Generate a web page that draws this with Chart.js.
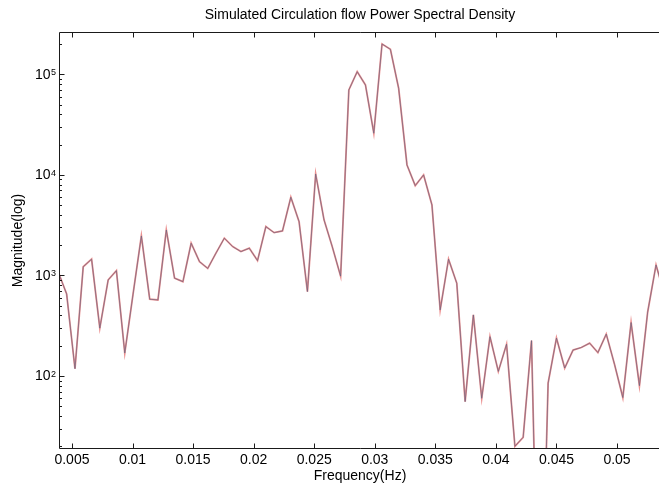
<!DOCTYPE html>
<html>
<head>
<meta charset="utf-8">
<title>Simulated Circulation flow Power Spectral Density</title>
<script src="https://cdn.jsdelivr.net/npm/chart.js@4.4.1/dist/chart.umd.min.js"></script>
<style>
  html, body { margin: 0; padding: 0; background: #fff; overflow: hidden; }
  canvas { display: block; }
</style>
</head>
<body>
<canvas id="psdChart" width="662" height="485"></canvas>
<script>
// frequency bins (Hz) of the spectrum
const frequency = [
    0.00393, 0.00456, 0.00525, 0.00593, 0.00662, 0.00730, 0.00799, 0.00867, 0.00936, 0.01004,
    0.01073, 0.01142, 0.01210, 0.01279, 0.01347, 0.01416, 0.01484, 0.01553, 0.01621, 0.01690,
    0.01758, 0.01827, 0.01895, 0.01964, 0.02032, 0.02101, 0.02169, 0.02238, 0.02307, 0.02375,
    0.02444, 0.02512, 0.02581, 0.02649, 0.02718, 0.02786, 0.02855, 0.02923, 0.02992, 0.03060,
    0.03129, 0.03197, 0.03266, 0.03334, 0.03403, 0.03472, 0.03540, 0.03609, 0.03677, 0.03746,
    0.03814, 0.03883, 0.03951, 0.04020, 0.04088, 0.04157, 0.04225, 0.04294, 0.04362, 0.04431,
    0.04500, 0.04568, 0.04637, 0.04705, 0.04774, 0.04842, 0.04911, 0.04979, 0.05048, 0.05116,
    0.05185, 0.05253, 0.05322, 0.05390
];

// PSD magnitude at each bin
const magnitude = [
    1030, 655, 118, 1220, 1450, 299, 902, 1116, 169, 646,
    2470, 580, 570, 2830, 938, 867, 2090, 1370, 1174, 1675,
    2345, 1932, 1725, 1864, 1403, 3054, 2661, 2767, 5984, 3427,
    690, 10200, 3566, 1932, 982, 69800, 106000, 78300, 25900, 200000,
    177000, 72600, 12530, 7810, 9980, 5020, 454, 1449, 836, 55.6,
    405, 60, 246, 111, 207, 20, 24.6, 225, 0.06, 85,
    238, 120, 181, 192, 212, 171, 261, 131, 61, 340,
    80, 433, 1271, 655
];

const decadeTicks = [100, 1000, 10000, 100000];
const freqRange = [0.00393, 0.05363];
const magRange = [18.8, 263000];

const FONT = 'Liberation Sans, Arial, Helvetica, sans-serif';

const points = frequency.map((f, i) => ({ x: f, y: magnitude[i] }));

// box, inward ticks and 10^n labels drawn on top of the trace
const axesFrame = {
    id: 'axesFrame',
    afterDatasetsDraw(chart) {
        const ctx = chart.ctx;
        const area = chart.chartArea;
        const xs = chart.scales.x;
        const ys = chart.scales.y;
        const L = Math.round(area.left) + 0.5;
        const T = Math.round(area.top) + 0.5;
        const B = Math.round(area.bottom) - 0.5;
        const R = area.right;

        ctx.save();
        ctx.strokeStyle = '#1a1a1a';
        ctx.lineWidth = 1;
        ctx.beginPath();
        ctx.moveTo(R, T); ctx.lineTo(L, T); ctx.lineTo(L, B); ctx.lineTo(R, B);

        xs.ticks.forEach(t => {
            const px = Math.round(xs.getPixelForValue(t.value)) + 0.5;
            ctx.moveTo(px, B); ctx.lineTo(px, B - 5);
            ctx.moveTo(px, T); ctx.lineTo(px, T + 5);
        });

        for (let e = 1; e <= 5; e++) {
            for (let j = 1; j <= 9; j++) {
                const v = j * Math.pow(10, e);
                if (v < magRange[0] || v > magRange[1]) continue;
                const py = Math.round(ys.getPixelForValue(v)) + 0.5;
                ctx.moveTo(L, py); ctx.lineTo(L + (j === 1 ? 5 : 2.5), py);
            }
        }
        ctx.stroke();

        ctx.fillStyle = '#000';
        decadeTicks.forEach(v => {
            const py = ys.getPixelForValue(v);
            const exp = String(Math.round(Math.log10(v)));
            ctx.font = '14px ' + FONT;
            ctx.textAlign = 'right';
            ctx.textBaseline = 'middle';
            ctx.fillText('10', L - 9, py + 0.5);
            ctx.font = '9px ' + FONT;
            ctx.textAlign = 'left';
            ctx.textBaseline = 'alphabetic';
            ctx.fillText(exp, L - 8.5, py + 1);
        });
        ctx.restore();
    }
};

new Chart(document.getElementById('psdChart'), {
    type: 'line',
    data: {
        datasets: [{
            label: 'PSD',
            data: points,
            order: 0,
            borderColor: 'rgba(95, 95, 125, 0.65)',
            borderWidth: 1,
            pointRadius: 0,
            tension: 0,
            fill: false
        }, {
            label: 'PSD (red trace)',
            data: points,
            order: 1,
            borderColor: 'rgba(232, 125, 125, 0.85)',
            borderWidth: 1.8,
            pointRadius: 0,
            tension: 0,
            fill: false
        }]
    },
    options: {
        responsive: false,
        animation: false,
        events: [],
        layout: { padding: { top: 0, left: 0, right: 1, bottom: 0 } },
        scales: {
            x: {
                type: 'linear',
                min: freqRange[0],
                max: freqRange[1],
                grid: { display: false, drawTicks: false },
                border: { display: false },
                ticks: {
                    stepSize: 0.005,
                    includeBounds: false,
                    autoSkip: false,
                    maxRotation: 0,
                    padding: 2.6,
                    color: '#000',
                    font: { family: FONT, size: 14 },
                    callback: v => String(+v.toFixed(3))
                },
                title: {
                    display: true,
                    text: 'Frequency(Hz)',
                    color: '#000',
                    font: { family: FONT, size: 14 },
                    padding: { top: 0, bottom: 0.6 }
                },
                afterFit: s => { s.height = 36; }
            },
            y: {
                type: 'logarithmic',
                min: magRange[0],
                max: magRange[1],
                grid: { display: false, drawTicks: false },
                border: { display: false },
                ticks: { display: false },
                title: {
                    display: true,
                    text: 'Magnitude(log)',
                    color: '#000',
                    font: { family: FONT, size: 14 },
                    padding: { top: 10, bottom: 0 }
                },
                afterFit: s => { s.width = 59; }
            }
        },
        plugins: {
            legend: { display: false },
            tooltip: { enabled: false },
            title: {
                display: true,
                text: 'Simulated Circulation flow Power Spectral Density',
                fullSize: false,
                color: '#000',
                font: { family: FONT, size: 14, weight: 'normal' },
                padding: { top: 6.6, bottom: 8.6 }
            }
        }
    },
    plugins: [axesFrame]
});
</script>
</body>
</html>
